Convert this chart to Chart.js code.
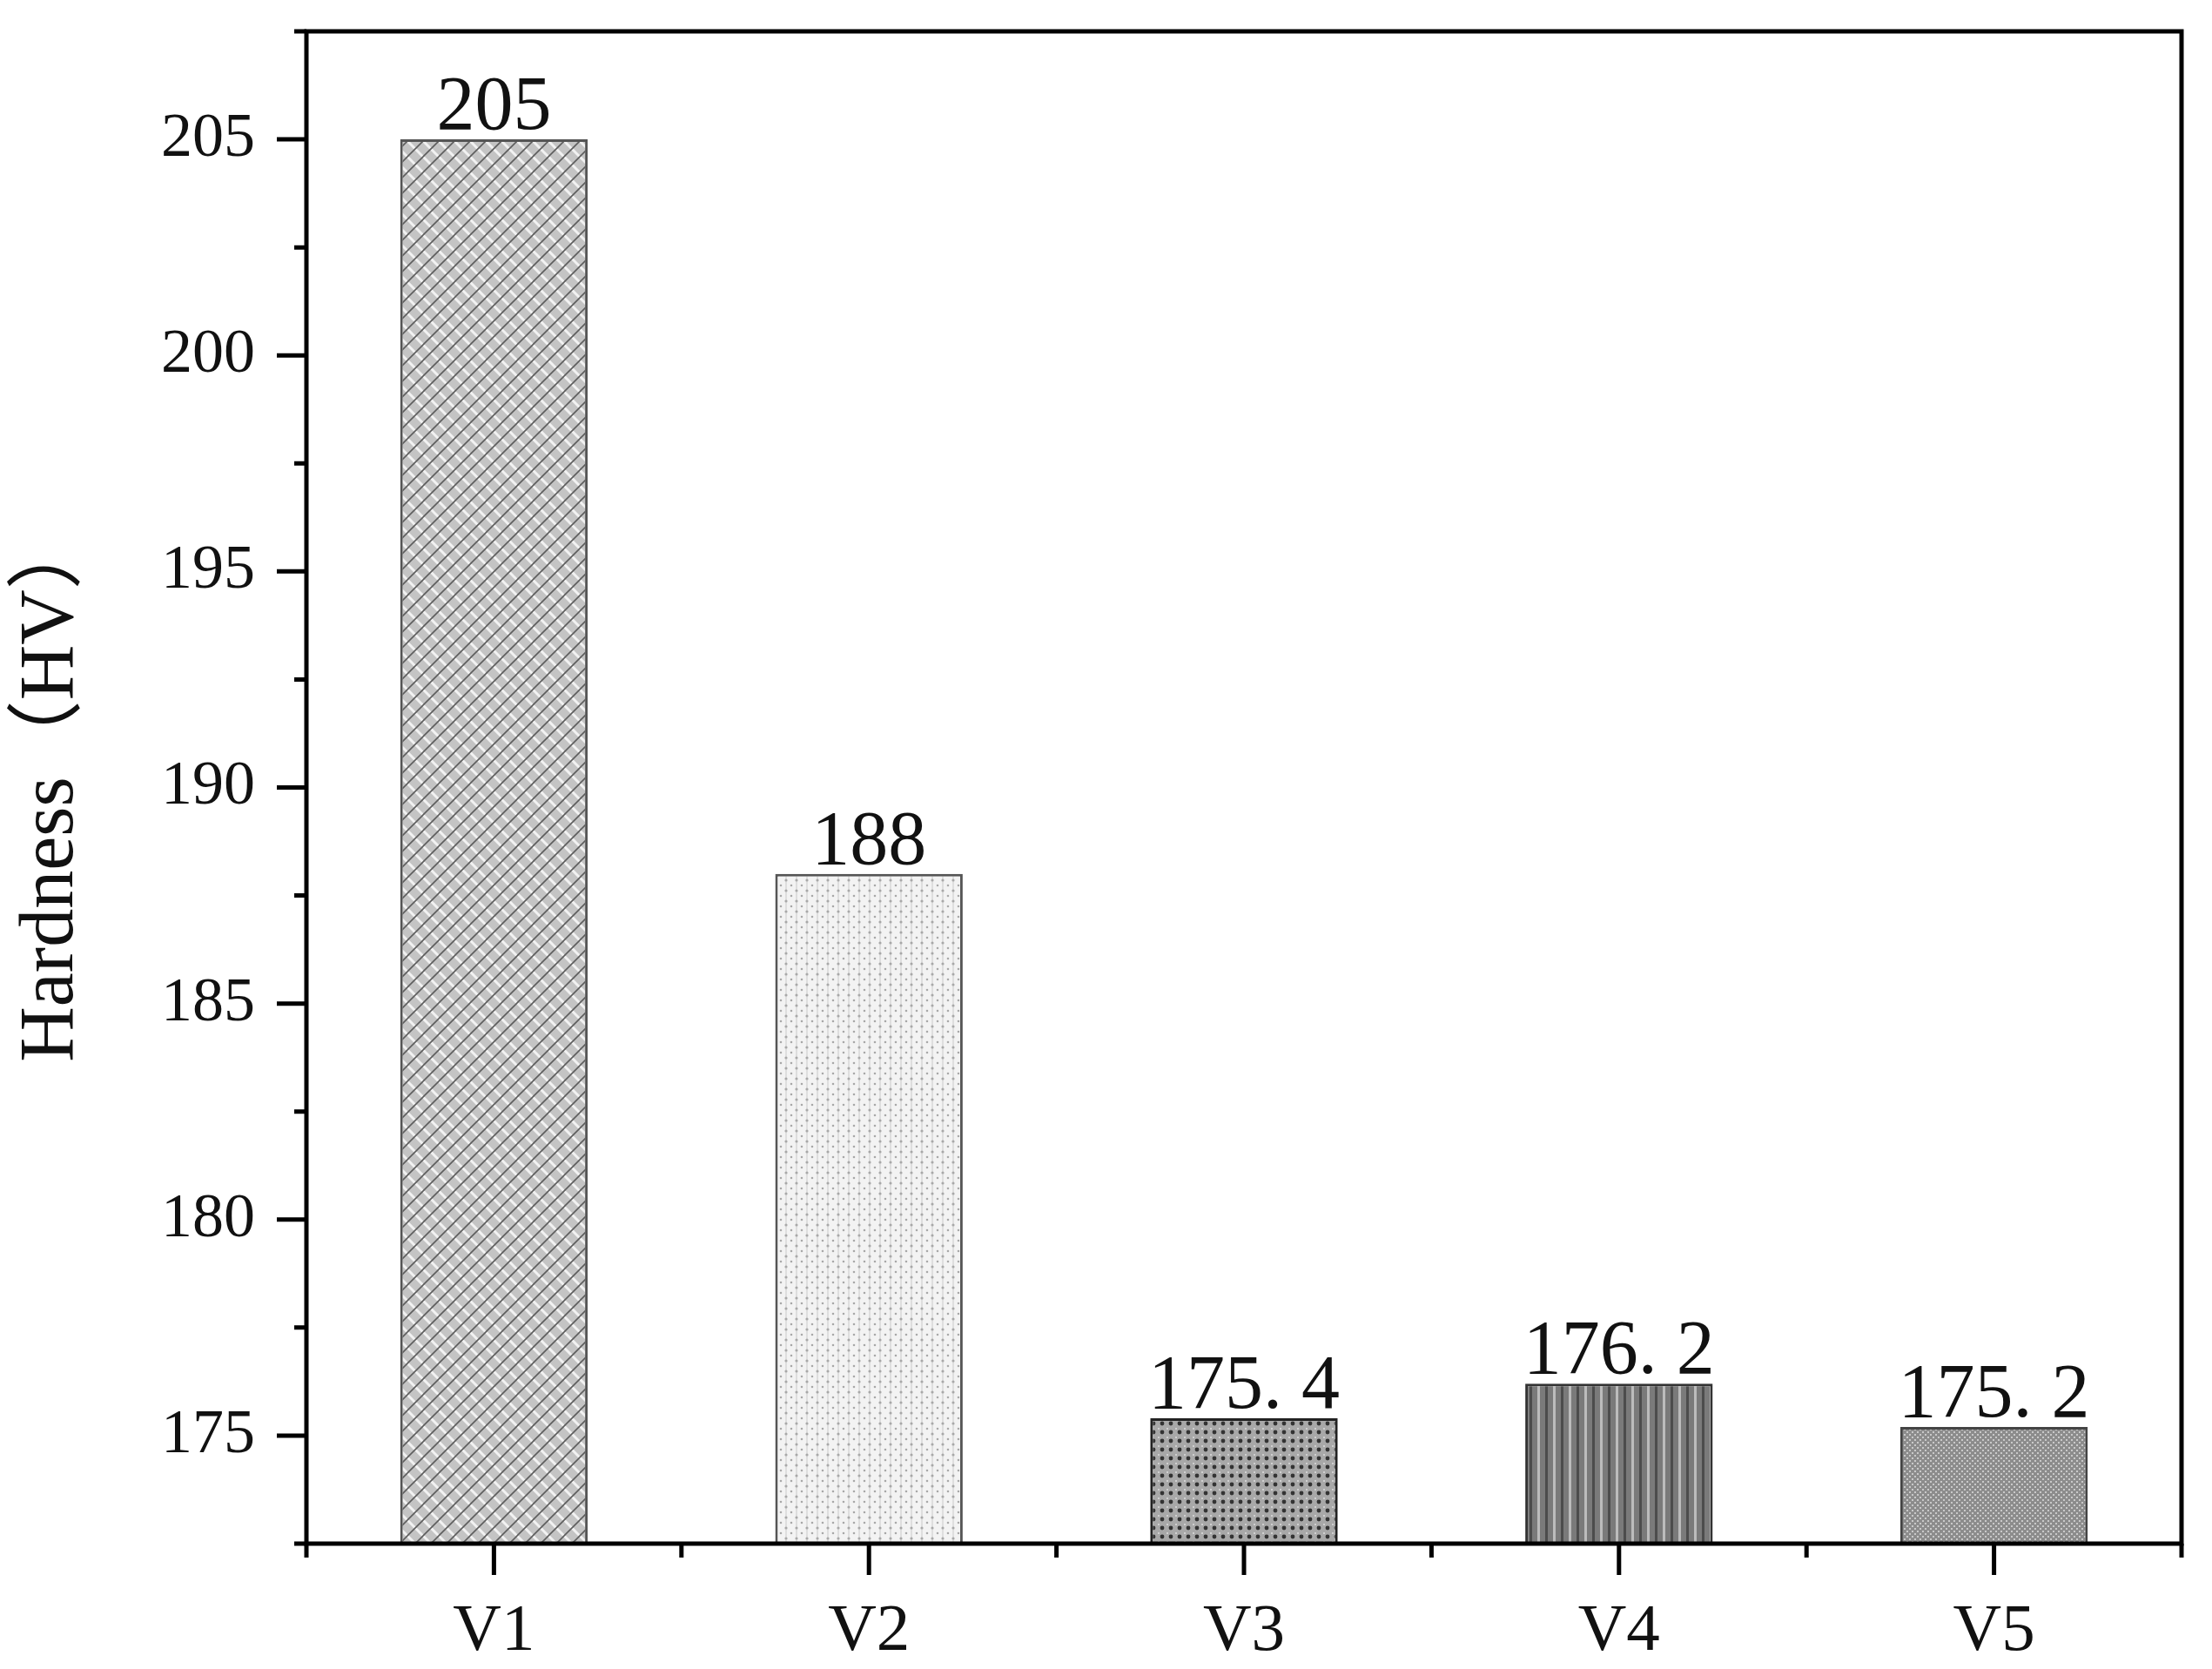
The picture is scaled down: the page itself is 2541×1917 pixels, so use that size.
<!DOCTYPE html>
<html>
<head>
<meta charset="utf-8">
<script src="https://cdn.jsdelivr.net/npm/chart.js@4.4.0/dist/chart.umd.min.js"></script>
<style>
  html, body { margin: 0; padding: 0; background: #fff; }
  #wrap { width: 2541px; height: 1917px; }
</style>
</head>
<body>
<div id="wrap"><canvas id="hardnessChart"></canvas></div>
<script>
const samples = ["V1", "V2", "V3", "V4", "V5"];
const hardness = [205, 188, 175.4, 176.2, 175.2];
const yLabelValues = [175, 180, 185, 190, 195, 200, 205];
const yRange = [172.5, 207.5];
const yTitle = "Hardness（HV）";

const serif = "'Liberation Serif', 'Noto Sans CJK SC', serif";
const canvas = document.getElementById("hardnessChart");
const mainCtx = canvas.getContext("2d");

// little tiles to imitate the hatch fills of the original plot
function makePattern(size, draw) {
  const c = document.createElement("canvas");
  c.width = size;
  c.height = size;
  draw(c.getContext("2d"), size);
  return mainCtx.createPattern(c, "repeat");
}

const fills = [
  makePattern(18, (g, s) => {
    g.fillStyle = "#c4c4c4";
    g.fillRect(0, 0, s, s);
    g.strokeStyle = "#f2f2f2";
    g.lineWidth = 3;
    g.beginPath();
    g.moveTo(-2, -2); g.lineTo(s + 2, s + 2);
    g.stroke();
    g.strokeStyle = "#5e5e5e";
    g.lineWidth = 1.6;
    g.beginPath();
    g.moveTo(0, s); g.lineTo(s, 0);
    g.moveTo(-4, 4); g.lineTo(4, -4);
    g.moveTo(s - 4, s + 4); g.lineTo(s + 4, s - 4);
    g.stroke();
  }),
  makePattern(12, (g, s) => {
    g.fillStyle = "#f3f3f3";
    g.fillRect(0, 0, s, s);
    g.fillStyle = "#dedede";
    g.fillRect(2, 0, 2, s);
    g.fillStyle = "#a8a8a8";
    g.beginPath();
    g.arc(3, 3, 1.6, 0, Math.PI * 2);
    g.arc(9, 9, 1.3, 0, Math.PI * 2);
    g.fill();
  }),
  makePattern(10, (g, s) => {
    g.fillStyle = "#a8a8a8";
    g.fillRect(0, 0, s, s);
    g.fillStyle = "#333";
    g.beginPath();
    g.arc(5, 5, 2.4, 0, Math.PI * 2);
    g.fill();
    g.fillStyle = "#d0d0d0";
    g.fillRect(0, 0, 2, 2);
  }),
  makePattern(18, (g, s) => {
    g.fillStyle = "#7a7a7a";
    g.fillRect(0, 0, s, s);
    g.fillStyle = "#bcbcbc";
    g.fillRect(2, 0, 3, s);
    g.fillStyle = "#4c4c4c";
    g.fillRect(11, 0, 3, s);
  }),
  makePattern(6, (g, s) => {
    g.fillStyle = "#8c8c8c";
    g.fillRect(0, 0, s, s);
    g.fillStyle = "#c9c9c9";
    g.fillRect(0, 0, 2, 2);
    g.fillRect(3, 3, 2, 2);
  })
];
const edges = ["#555", "#555", "#222", "#333", "#444"];

// values printed above each bar
const valueLabels = {
  id: "valueLabels",
  afterDatasetsDraw(chart) {
    const ctx = chart.ctx;
    const meta = chart.getDatasetMeta(0);
    ctx.save();
    ctx.font = "88px " + serif;
    ctx.fillStyle = "#111";
    ctx.textAlign = "center";
    ctx.textBaseline = "alphabetic";
    meta.data.forEach((bar, i) => {
      ctx.fillText(String(hardness[i]).replace(".", ". "), bar.x, bar.y - 12);
    });
    ctx.restore();
  }
};

// closed frame plus outward major / minor tick marks
const frameTicks = {
  id: "frameTicks",
  afterDraw(chart) {
    const { ctx, chartArea: a, scales: { x, y } } = chart;
    ctx.save();
    ctx.strokeStyle = "#000";
    ctx.lineWidth = 5;
    ctx.strokeRect(a.left, a.top, a.right - a.left, a.bottom - a.top);
    ctx.beginPath();
    y.ticks.forEach(t => {
      const py = y.getPixelForValue(t.value);
      const len = yLabelValues.includes(t.value) ? 34 : 14;
      ctx.moveTo(a.left - len, py);
      ctx.lineTo(a.left, py);
    });
    samples.forEach((s, i) => {
      const px = x.getPixelForValue(i);
      ctx.moveTo(px, a.bottom);
      ctx.lineTo(px, a.bottom + 36);
    });
    for (let i = 0; i <= samples.length; i++) {
      const px = x.getPixelForValue(i - 0.5);
      ctx.moveTo(px, a.bottom);
      ctx.lineTo(px, a.bottom + 16);
    }
    ctx.stroke();
    ctx.restore();
  }
};

new Chart(canvas, {
  type: "bar",
  data: {
    labels: samples,
    datasets: [{
      data: hardness,
      backgroundColor: fills,
      borderColor: edges,
      borderWidth: 3,
      categoryPercentage: 1,
      barPercentage: 0.5
    }]
  },
  options: {
    responsive: true,
    maintainAspectRatio: false,
    devicePixelRatio: 1,
    animation: false,
    layout: { padding: { top: 36, right: 35, left: 0, bottom: 0 } },
    plugins: {
      legend: { display: false },
      tooltip: { enabled: false }
    },
    scales: {
      x: {
        grid: { display: false, drawTicks: false },
        border: { display: false },
        ticks: { color: "#111", font: { family: serif, size: 77 }, padding: 56 },
        afterFit: scale => {
          scale.height = 144;
          scale.paddingLeft = 0;
          scale.paddingRight = 0;
        }
      },
      y: {
        min: yRange[0],
        max: yRange[1],
        grid: { display: false, drawTicks: false },
        border: { display: false },
        ticks: {
          stepSize: 2.5,
          color: "#111",
          font: { family: serif, size: 72 },
          padding: 59,
          callback: v => (yLabelValues.includes(v) ? v : "")
        },
        title: {
          display: true,
          text: yTitle,
          color: "#111",
          font: { family: serif, size: 88 },
          padding: { top: 7, bottom: 0 }
        },
        afterFit: scale => {
          scale.width = 352;
          scale.paddingTop = 0;
          scale.paddingBottom = 0;
        }
      }
    }
  },
  plugins: [valueLabels, frameTicks]
});
</script>
</body>
</html>
